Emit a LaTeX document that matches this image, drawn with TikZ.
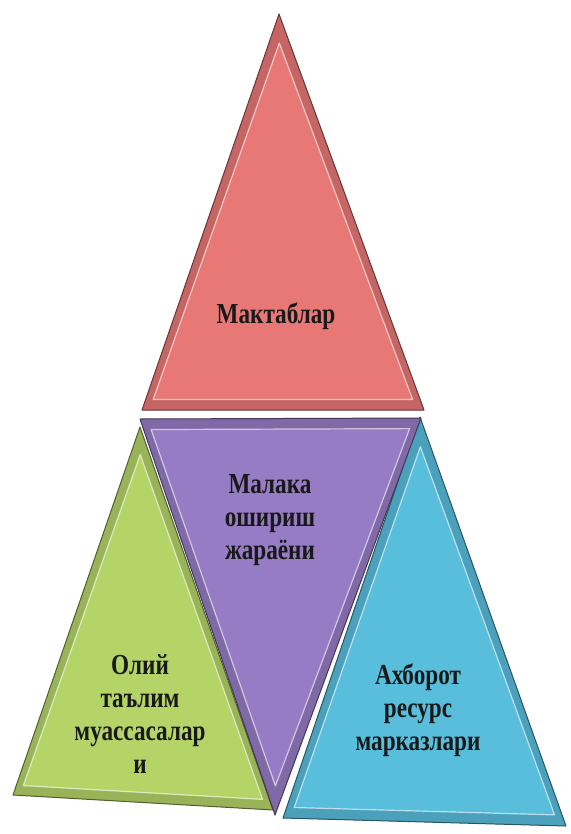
\documentclass[tikz,border=0pt]{standalone}
\usepackage{fontspec}
\newfontfamily\trifont{Liberation Serif}[FakeStretch=0.8]
\usetikzlibrary{calc}
\definecolor{redfill}{RGB}{232,120,118}
\definecolor{violetfill}{RGB}{150,124,196}
\definecolor{greenfill}{RGB}{180,212,104}
\definecolor{bluefill}{RGB}{88,190,220}
\tikzset{
outer tri/.style={fill=#1!85!black,draw=#1!45!black,line width=1pt,line join=round},
inner tri/.style={fill=#1,draw=white,draw opacity=0.6,line width=1.2pt,line join=round},
shadow tri/.style={fill=black,opacity=0.35,line join=round},
tri text/.style={font=\trifont\bfseries\fontsize{29}{33}\selectfont,align=center,text=black!90,inner sep=0pt}}

\begin{document}
\begin{tikzpicture}[x=1pt,y=-1pt]
\useasboundingbox (0,0) rectangle (570,834);

\coordinate (r1) at (279,14);
\coordinate (r2) at (142,410);
\coordinate (r3) at (424,410);
\coordinate (p1) at (140,419);
\coordinate (p2) at (421,418);
\coordinate (p3) at (275,815);
\coordinate (g1) at (140,427);
\coordinate (g2) at (13,795);
\coordinate (g3) at (273,810);
\coordinate (b1) at (420,417);
\coordinate (b2) at (283,818);
\coordinate (b3) at (566,826);

\coordinate (rc) at ($($(r2)!0.5!(r3)$)!1/3!(r1)$);
\coordinate (pc) at ($($(p1)!0.5!(p2)$)!1/3!(p3)$);
\coordinate (gc) at ($($(g2)!0.5!(g3)$)!1/3!(g1)$);
\coordinate (bc) at ($($(b2)!0.5!(b3)$)!1/3!(b1)$);

\fill[shadow tri,shift={(4,4)}] (g1) -- (g2) -- (g3) -- cycle;
\draw[outer tri=greenfill] (g1) -- (g2) -- (g3) -- cycle;
\draw[inner tri=greenfill] ($(g1)!0.11!(gc)$) -- ($(g2)!0.08!(gc)$) -- ($(g3)!0.08!(gc)$) -- cycle;

\fill[shadow tri,shift={(4,4)}] (b1) -- (b2) -- (b3) -- cycle;
\draw[outer tri=bluefill] (b1) -- (b2) -- (b3) -- cycle;
\draw[inner tri=bluefill] ($(b1)!0.11!(bc)$) -- ($(b2)!0.08!(bc)$) -- ($(b3)!0.08!(bc)$) -- cycle;

\fill[shadow tri,shift={(4,4)}] (p1) -- (p2) -- (p3) -- cycle;
\draw[outer tri=violetfill] (p1) -- (p2) -- (p3) -- cycle;
\draw[inner tri=violetfill] ($(p1)!0.08!(pc)$) -- ($(p2)!0.08!(pc)$) -- ($(p3)!0.11!(pc)$) -- cycle;

\fill[shadow tri,shift={(4,4)}] (r1) -- (r2) -- (r3) -- cycle;
\draw[outer tri=redfill] (r1) -- (r2) -- (r3) -- cycle;
\draw[inner tri=redfill] ($(r1)!0.11!(rc)$) -- ($(r2)!0.08!(rc)$) -- ($(r3)!0.08!(rc)$) -- cycle;

\node[tri text] (mak) at (276,316) {Мактаблар};
\node[tri text] (mal) at (270,520) {Малака\\ошириш\\жараёни};
\node[tri text] (oliy) at (140,714) {Олий\\таълим\\муассасалар\\и};
\node[tri text] (axb) at (418,710) {Ахборот\\ресурс\\марказлари};

\end{tikzpicture}
\end{document}
